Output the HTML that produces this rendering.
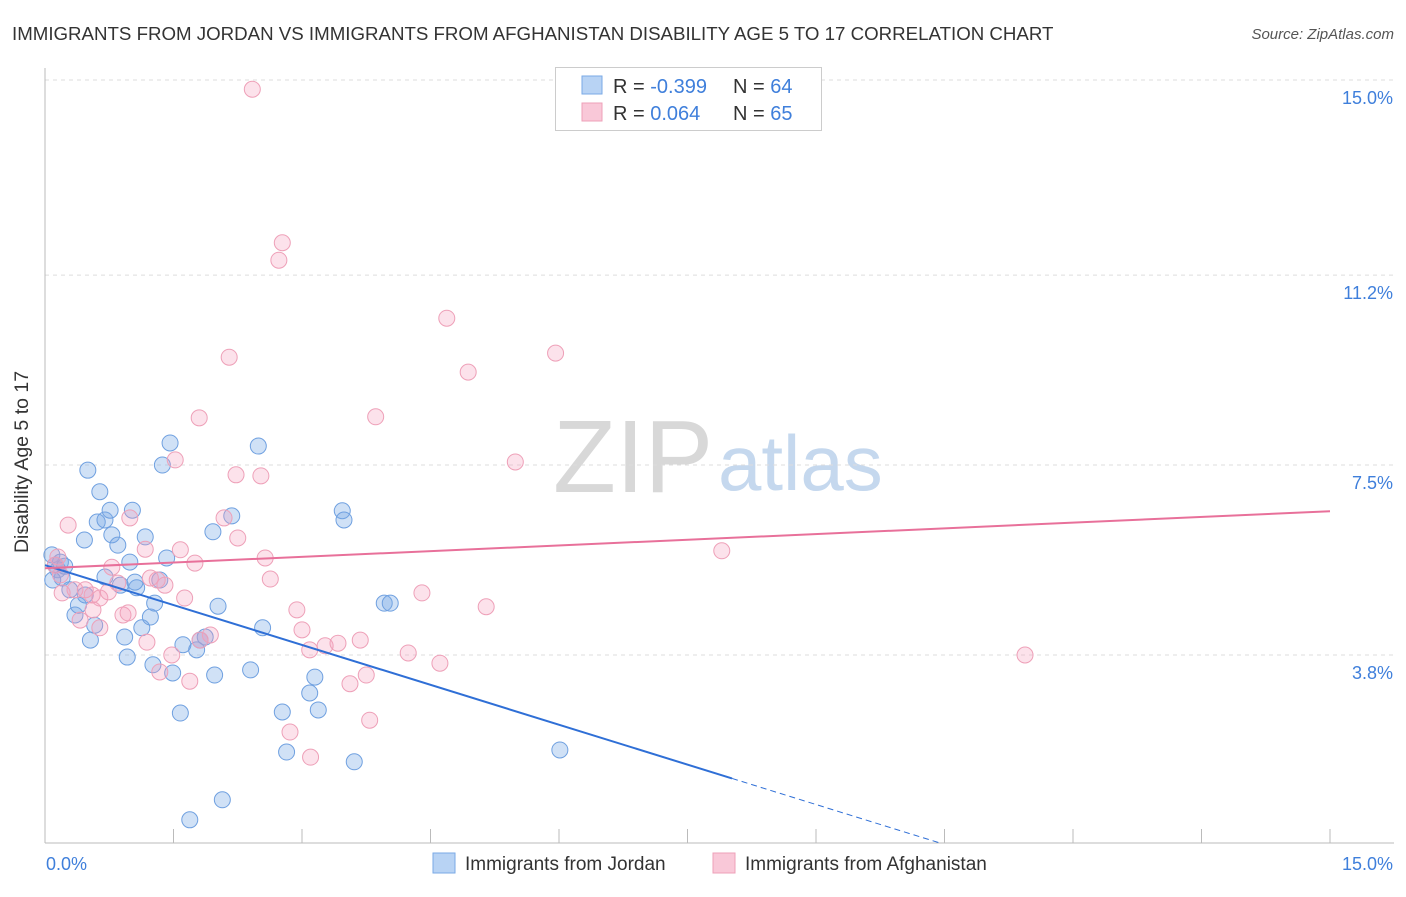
<!DOCTYPE html>
<html><head><meta charset="utf-8">
<style>
body{margin:0;background:#fff;font-family:"Liberation Sans",sans-serif;}
svg text{font-family:"Liberation Sans",sans-serif;}
</style></head>
<body>
<svg id="chart" width="1406" height="892" viewBox="0 0 1406 892">
<text x="12" y="40" font-size="18.7" fill="#333">IMMIGRANTS FROM JORDAN VS IMMIGRANTS FROM AFGHANISTAN DISABILITY AGE 5 TO 17 CORRELATION CHART</text>
<text x="1394" y="39" font-size="15" fill="#555" font-style="italic" text-anchor="end">Source: ZipAtlas.com</text>
<g>
<text x="553" y="492" font-size="103" fill="#d8d8d8" font-family="Liberation Serif,serif">ZIP</text>
<text x="718" y="490" font-size="78" fill="#c5d8ee">atlas</text>
</g>
<g id="grid"></g>
<g id="axes"></g>
<g id="marks"></g>
<g id="lines"></g>
<text x="22" y="456" font-size="19.5" fill="#333" transform="rotate(-90 28 456)" text-anchor="middle">Disability Age 5 to 17</text>
<g>
<rect x="555.500" y="67.500" width="266" height="63" fill="#fff" stroke="#ccc"/>
<rect x="582" y="76" width="20" height="18" fill="#b8d3f4" stroke="#7aaae6"/>
<rect x="582" y="103" width="20" height="18" fill="#f9c8d8" stroke="#eea0b8"/>
<text x="613" y="93" font-size="20" fill="#333">R = <tspan fill="#3f7fdb">-0.399</tspan></text>
<text x="733" y="93" font-size="20" fill="#333">N = <tspan fill="#3f7fdb">64</tspan></text>
<text x="613" y="120" font-size="20" fill="#333">R =  <tspan fill="#3f7fdb">0.064</tspan></text>
<text x="733" y="120" font-size="20" fill="#333">N = <tspan fill="#3f7fdb">65</tspan></text>
</g>
<g>
<rect x="433" y="853" width="22" height="20" fill="#b8d3f4" stroke="#7aaae6"/>
<text x="465" y="870" font-size="19" fill="#333">Immigrants from Jordan</text>
<rect x="713" y="853" width="22" height="20" fill="#f9c8d8" stroke="#eea0b8"/>
<text x="745" y="870" font-size="19" fill="#333">Immigrants from Afghanistan</text>
</g>
</svg>
<script>
const jordanX=[.08,.12,.15,.18,.20,.23,.09,.29,.35,.39,.47,.53,.58,.50,.64,.61,.70,.76,.78,.85,.46,.70,.88,.93,.96,.99,1.02,1.07,1.13,1.17,1.23,1.28,1.26,1.34,1.37,1.42,1.46,1.49,1.58,1.61,1.69,1.77,1.81,1.87,1.98,2.02,1.96,2.07,2.18,2.40,2.49,2.54,2.77,2.82,3.09,3.15,3.19,3.47,3.49,3.61,3.96,4.03,6.01,1.05];
const jordanY=[5.75,5.55,5.46,5.61,5.30,5.53,5.26,5.07,4.58,4.77,4.97,4.09,4.38,7.40,6.98,6.39,6.43,6.62,6.14,5.94,6.04,5.32,5.16,4.15,3.76,5.61,6.62,5.11,4.33,6.10,4.54,4.81,3.61,5.26,7.50,5.69,7.93,3.45,2.67,4.00,0.59,3.90,4.09,4.15,3.41,4.75,6.20,0.98,6.51,3.51,7.87,4.33,2.69,1.91,3.06,3.37,2.73,6.61,6.43,1.72,4.81,4.81,1.95,5.22];
const afghanX=[2.42,2.77,2.73,4.69,5.96,4.94,2.15,3.86,1.80,1.52,5.49,2.23,2.52,.27,.99,2.09,2.25,1.58,2.57,1.75,1.17,.78,.15,.12,.18,.35,.47,.55,.64,.74,.85,1.23,1.40,1.63,2.63,2.94,3.00,3.27,3.09,3.42,3.68,3.75,3.56,3.79,4.24,4.40,4.61,5.15,7.90,11.44,2.86,3.10,1.93,1.81,1.34,1.69,.91,.97,.64,.56,1.19,1.48,1.31,.20,.41];
const afghanY=[14.82,11.83,11.49,10.36,9.68,9.31,9.60,8.44,8.42,7.60,7.56,7.31,7.29,6.33,6.47,6.47,6.08,5.85,5.69,5.59,5.86,5.51,5.71,5.55,5.36,5.07,5.07,4.97,4.91,5.03,5.20,5.30,5.16,4.91,5.28,4.68,4.29,3.98,3.90,4.03,4.09,3.41,3.24,2.53,3.84,5.01,3.64,4.74,5.83,3.80,2.30,1.81,4.19,4.09,3.47,3.29,4.58,4.62,4.33,4.68,4.05,3.80,5.26,5.01,4.48];
const yTicks=[15.0,11.2,7.5,3.8];
const yTickLabels=["15.0%","11.2%","7.5%","3.8%"];
const xTickLabels=["0.0%","15.0%"];
const jordanTrend=[5.55,-0.518,8.02];
const afghanTrend=[5.49,6.60];

const NS="http://www.w3.org/2000/svg";
const X0=45,X1=1330,Y15=80,PPY=51.34;
const sx=v=>X0+v*(X1-X0)/15;
const sy=v=>Y15+(15-v)*PPY;
function mk(t,a,p){const e=document.createElementNS(NS,t);for(const k in a)e.setAttribute(k,a[k]);p.appendChild(e);return e;}
const grid=document.getElementById('grid'),axes=document.getElementById('axes'),marks=document.getElementById('marks'),lines=document.getElementById('lines');
yTicks.forEach((t,i)=>{
 const l=mk('line',{x1:X0,x2:1394,y1:sy(t),y2:sy(t),stroke:'#ddd','stroke-dasharray':'4,4'},grid);
 
 
 const tx=mk('text',{x:1393,y:sy(t)+24,'font-size':18,fill:'#3f7fdb','text-anchor':'end'},grid);
 tx.textContent=yTickLabels[i];
 
 
});
const ax=mk('line',{x1:X0,x2:X0,y1:68,y2:843,stroke:'#bbb'},axes);


const bx=mk('line',{x1:X0,x2:1394,y1:843,y2:843,stroke:'#bbb'},axes);


for(let i=0;i<=10;i++){
 const t=mk('line',{x1:sx(i*1.5),x2:sx(i*1.5),y1:829,y2:843,stroke:'#bbb'},axes);
 
 
}
[[X0+1,'start'],[1393,'end']].forEach((p,i)=>{
 const t=mk('text',{x:p[0],y:870,'font-size':18,fill:'#3f7fdb','text-anchor':p[1]},axes);
 t.textContent=xTickLabels[i];
 
 
});
jordanX.forEach((v,i)=>{
 const c=mk('circle',{cx:sx(v),cy:sy(jordanY[i]),r:8,fill:'rgba(120,170,230,0.35)',stroke:'#6fa0e0','stroke-width':1},marks);
 
 
});
afghanX.forEach((v,i)=>{
 const c=mk('circle',{cx:sx(v),cy:sy(afghanY[i]),r:8,fill:'rgba(245,160,190,0.3)',stroke:'#eea0b8','stroke-width':1},marks);
 
 
});
const jy=x=>jordanTrend[0]+jordanTrend[1]*x;
const j1=mk('line',{x1:sx(0),y1:sy(jy(0)),x2:sx(jordanTrend[2]),y2:sy(jy(jordanTrend[2])),stroke:'#2f6fd6','stroke-width':2},lines);


const xEnd=(jordanTrend[0]-0.14)/-jordanTrend[1];
const j2=mk('line',{x1:sx(jordanTrend[2]),y1:sy(jy(jordanTrend[2])),x2:sx(xEnd),y2:sy(jy(xEnd)),stroke:'#2f6fd6','stroke-width':1,'stroke-dasharray':'6,4'},lines);


const a1=mk('line',{x1:sx(0),y1:sy(afghanTrend[0]),x2:sx(15),y2:sy(afghanTrend[1]),stroke:'#e8709a','stroke-width':2},lines);


</script>
</body></html>
